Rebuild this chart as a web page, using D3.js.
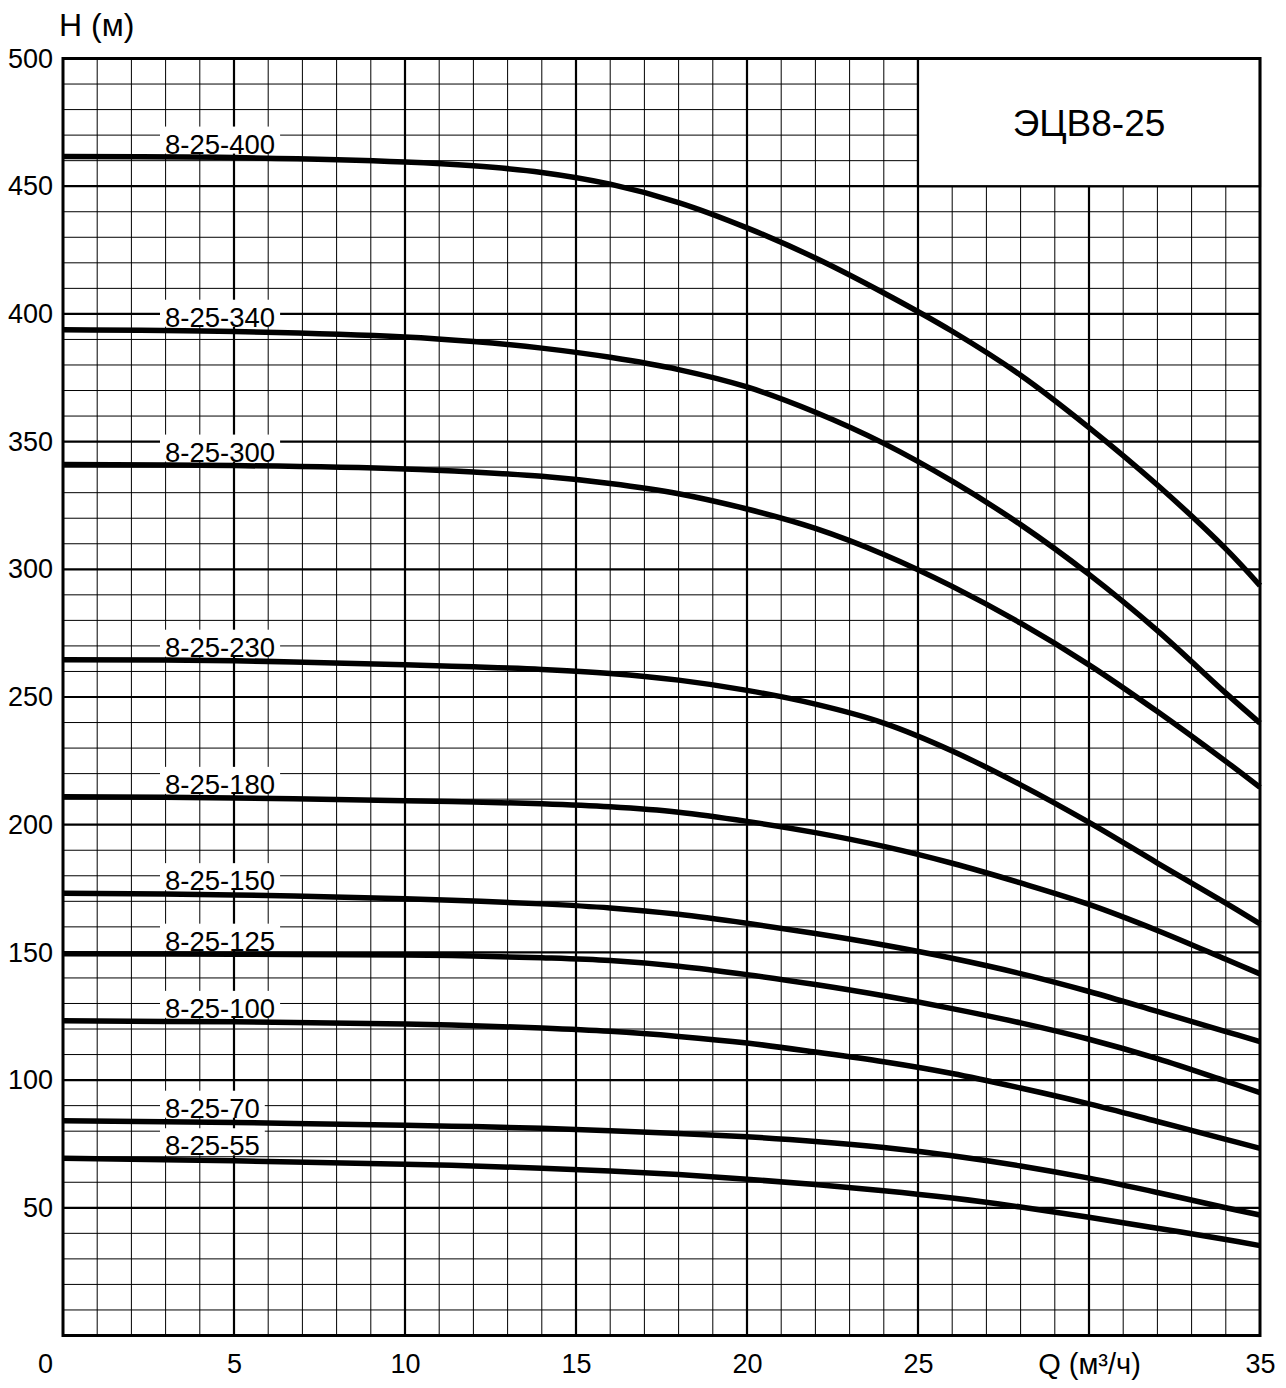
<!DOCTYPE html>
<html>
<head>
<meta charset="utf-8">
<script src="https://cdn.jsdelivr.net/npm/d3@7"></script>
<style>
  body { margin: 0; background: #fff; }
  text { font-family: "Liberation Sans", Arial, sans-serif; fill: #000; }
</style>
</head>
<body>
<div id="grafica"></div>
<script>
// ---------------------------//
//       DATA                 //
// ---------------------------//

// flow Q (m3/h) where heads were read
var flows = [0, 5, 10, 12, 14, 16, 18, 20, 22, 24, 26, 28, 30, 32, 34, 35];

var pumps = ["8-25-400", "8-25-340", "8-25-300", "8-25-230", "8-25-180",
  "8-25-150", "8-25-125", "8-25-100", "8-25-70", "8-25-55"];

// head H (m) for each pump, same order as flows
var head400 = [461.6, 461.2, 459.5, 458.0, 455.4, 450.8, 443.6, 433.7, 421.9, 408.2, 393.2, 376.0, 355.5, 333.0, 308.0, 293.6];
var head340 = [393.8, 393.1, 391.0, 389.2, 386.6, 383.0, 378.2, 371.4, 361.5, 349.3, 334.5, 317.5, 298.0, 276.0, 251.5, 239.8];
var head300 = [341.0, 340.6, 339.3, 338.1, 336.4, 333.6, 329.6, 323.6, 316.0, 305.8, 293.3, 278.9, 262.6, 244.3, 224.8, 214.6];
var head230 = [264.6, 264.2, 262.6, 261.8, 260.8, 259.2, 256.6, 252.6, 247.2, 239.8, 228.9, 215.6, 200.9, 185.0, 169.3, 161.2];
var head180 = [210.9, 210.5, 209.4, 208.9, 208.2, 207.0, 204.9, 201.3, 196.9, 191.5, 184.9, 177.2, 168.8, 158.6, 147.3, 141.6];
var head150 = [173.2, 172.5, 171.0, 170.1, 169.0, 167.4, 164.9, 161.4, 157.4, 152.9, 147.7, 141.7, 134.7, 126.9, 119.0, 115.1];
var head125 = [149.5, 149.3, 149.0, 148.6, 147.9, 146.8, 144.6, 141.3, 137.4, 133.0, 128.0, 122.4, 116.0, 108.4, 99.6, 95.1];
var head100 = [123.2, 122.8, 122.0, 121.3, 120.4, 119.1, 117.1, 114.5, 111.0, 107.2, 102.6, 96.9, 90.7, 83.8, 76.8, 73.3];
var head70 = [84.1, 83.4, 82.3, 81.8, 81.1, 80.2, 79.1, 77.8, 76.0, 73.6, 70.4, 66.4, 61.6, 56.0, 50.0, 47.2];
var head55 = [69.4, 68.4, 67.1, 66.4, 65.5, 64.4, 63.0, 61.2, 59.1, 56.7, 53.8, 50.3, 46.3, 42.0, 37.6, 35.2];

var heads = [head400, head340, head300, head230, head180, head150, head125, head100, head70, head55];

var xTicks = [5, 10, 15, 20, 25, 30, 35];
var yTicks = [50, 100, 150, 200, 250, 300, 350, 400, 450, 500];
var title = "ЭЦВ8-25";

// ---------------------------//
//       SVG AND SCALES       //
// ---------------------------//

var margin = { top: 58.5, right: 26, bottom: 52.5, left: 63 },
  width = 1286 - margin.left - margin.right,
  height = 1388 - margin.top - margin.bottom;

var svg = d3.select("#grafica")
  .append("svg")
  .attr("width", 1286)
  .attr("height", 1388)
  .append("g")
  .attr("transform", "translate(" + margin.left + "," + margin.top + ")");

var x = d3.scaleLinear().domain([0, 35]).range([0, width]);
var y = d3.scaleLinear().domain([0, 500]).range([height, 0]);

// ---------------------------//
//       GRID                 //
// ---------------------------//

// thin lines every 1 m3/h and every 10 m, thick every 5 m3/h and 50 m
svg.append("g")
  .selectAll("line")
  .data(d3.range(1, 35))
  .enter()
  .append("line")
  .attr("x1", function (d) { return x(d) })
  .attr("x2", function (d) { return x(d) })
  .attr("y1", 0)
  .attr("y2", height)
  .attr("stroke", "#000")
  .attr("stroke-width", function (d) { return d % 5 == 0 ? 2.2 : 1 });

svg.append("g")
  .selectAll("line")
  .data(d3.range(10, 500, 10))
  .enter()
  .append("line")
  .attr("x1", 0)
  .attr("x2", width)
  .attr("y1", function (d) { return y(d) })
  .attr("y2", function (d) { return y(d) })
  .attr("stroke", "#000")
  .attr("stroke-width", function (d) { return d % 50 == 0 ? 2.2 : 1 });

// title box in the top right corner
svg.append("rect")
  .attr("x", x(25))
  .attr("y", y(500))
  .attr("width", x(35) - x(25))
  .attr("height", y(450) - y(500))
  .attr("fill", "#fff")
  .attr("stroke", "#000")
  .attr("stroke-width", 2.2);

svg.append("text")
  .attr("x", x(30))
  .attr("y", y(500) + 77)
  .attr("text-anchor", "middle")
  .style("font-size", "37px")
  .text(title);

// frame
svg.append("rect")
  .attr("x", 0)
  .attr("y", 0)
  .attr("width", width)
  .attr("height", height)
  .attr("fill", "none")
  .attr("stroke", "#000")
  .attr("stroke-width", 3);

// ---------------------------//
//       AXIS LABELS          //
// ---------------------------//

var yAxis = svg.append("g")
  .call(d3.axisLeft(y).tickValues(yTicks).tickSize(0).tickPadding(10));
yAxis.select(".domain").remove();
yAxis.selectAll("text").style("font-size", "27px").attr("font-family", null);

var xAxis = svg.append("g")
  .attr("transform", "translate(0," + height + ")")
  .call(d3.axisBottom(x).tickValues(xTicks).tickSize(0).tickPadding(18)
    .tickFormat(function (d) { return d == 30 ? "Q (м³/ч)" : d }));
xAxis.select(".domain").remove();
xAxis.selectAll("text").style("font-size", "27px").attr("font-family", null);
xAxis.selectAll("text").filter(function (d) { return d == 30 }).style("font-size", "29px");

svg.append("text")
  .attr("x", -10)
  .attr("y", height + 37)
  .attr("text-anchor", "end")
  .style("font-size", "27px")
  .text("0");

svg.append("text")
  .attr("x", -4)
  .attr("y", -23)
  .style("font-size", "32px")
  .text("H (м)");

// ---------------------------//
//       CURVES               //
// ---------------------------//

var line = d3.line()
  .x(function (d) { return x(d[0]) })
  .y(function (d) { return y(d[1]) })
  .curve(d3.curveCatmullRom.alpha(0.5));

pumps.forEach(function (name, i) {
  var pts = flows.map(function (q, j) { return [q, heads[i][j]] });
  var base = y(heads[i][0]) - 3;

  // label with white background over the grid
  var lbl = svg.append("g");
  var bg = lbl.append("rect").attr("fill", "#fff");
  var t = lbl.append("text")
    .attr("x", 102)
    .attr("y", base)
    .style("font-size", "27.5px")
    .text(name);
  var bb = t.node().getBBox();
  bg.attr("x", bb.x - 5)
    .attr("y", base - 27)
    .attr("width", bb.width + 10)
    .attr("height", 27);

  svg.append("path")
    .datum(pts)
    .attr("d", line)
    .attr("fill", "none")
    .attr("stroke", "#000")
    .attr("stroke-width", 5.5);
});
</script>
</body>
</html>
